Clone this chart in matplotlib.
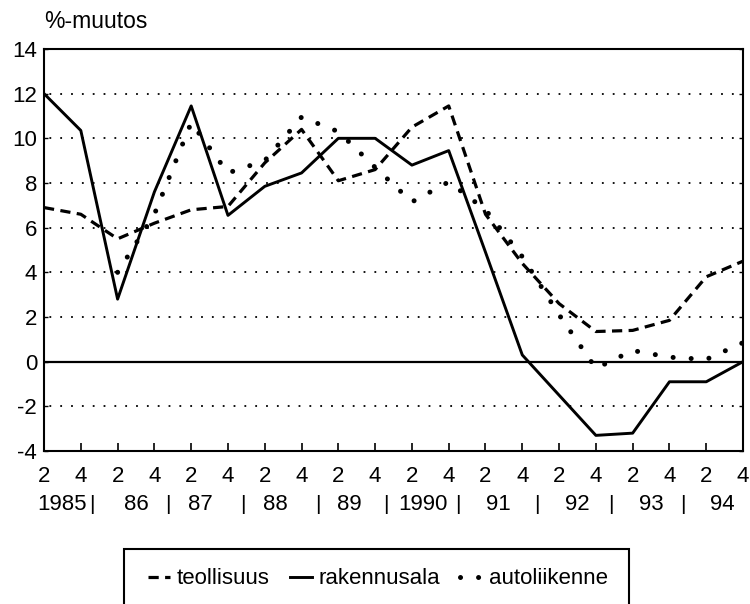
import numpy as np
from matplotlib import pyplot as plt
from matplotlib.patches import Rectangle

plt.rcParams['font.family'] = ['Liberation Sans', 'DejaVu Sans']
plt.rcParams['axes.unicode_minus'] = False

# half-year points, 1985 Q2 ... 1994 Q4
quarter_labels = ["2", "4"] * 10
years = ["1985", "86", "87", "88", "89", "1990", "91", "92", "93", "94"]
year_pos = [0.5, 2.5, 4.25, 6.3, 8.3, 10.3, 12.35, 14.5, 16.5, 18.45]
pipe_pos = [1.3, 3.37, 5.4, 7.45, 9.3, 11.25, 13.4, 15.4, 17.36]

teollisuus = [6.9, 6.6, 5.5, 6.2, 6.8, 6.95, 8.9, 10.4, 8.1, 8.6,
              10.5, 11.45, 6.6, 4.4, 2.6, 1.35, 1.4, 1.85, 3.8, 4.5]
rakennusala = [12.0, 10.35, 2.8, 7.6, 11.45, 6.55, 7.85, 8.45, 10.0, 10.0,
               8.8, 9.45, 4.9, 0.3, -1.5, -3.3, -3.2, -0.9, -0.9, 0.0]
autoliikenne = [np.nan, np.nan, 4.0, 6.6, 10.7, 8.45, 9.0, 10.95, 10.3, 8.7,
                7.15, 8.05, 6.8, 4.7, 2.1, -0.3, 0.5, 0.2, 0.1, 0.85]

x = np.arange(len(quarter_labels))
fs = 16

fig = plt.figure(figsize=(7.5, 6.04), dpi=100)
ax = fig.add_axes([0.0587, 0.2533, 0.932, 0.6656])

for yv in [-2, 2, 4, 6, 8, 10, 12]:
    ax.axhline(yv, color="black", lw=1.3, ls=(3, (1, 5)), zorder=1)
ax.axhline(0, color="black", lw=1.6, zorder=2)

l1, = ax.plot(x, teollisuus, color="black", lw=2.3, ls=(0, (3.2, 2.0)),
              label="teollisuus", zorder=3)
l2, = ax.plot(x, rakennusala, color="black", lw=2.1, label="rakennusala",
              zorder=4)
l3, = ax.plot(x, autoliikenne, color="black", lw=3.6, ls=(0, (0.01, 3.6)),
              dash_capstyle="round", label="autoliikenne", zorder=3)

ax.set_xlim(0, 19)
ax.set_ylim(-4, 14)
ax.set_yticks(np.arange(-4, 15, 2))
ax.set_xticks(x)
ax.set_xticklabels(quarter_labels)
ax.tick_params(axis="x", direction="in", length=6, width=1.2, pad=11,
               labelsize=fs)
ax.tick_params(axis="y", direction="in", length=3, width=1, pad=5,
               labelsize=fs, right=True)
for s in ax.spines.values():
    s.set_linewidth(1.5)

tr = ax.get_xaxis_transform()
for pos, yr in zip(year_pos, years):
    ax.text(pos, -0.133, yr, transform=tr, ha="center", va="center",
            fontsize=fs, clip_on=False)
for pos in pipe_pos:
    ax.text(pos, -0.133, "|", transform=tr, ha="center", va="center",
            fontsize=fs - 1, clip_on=False)

fig.text(44 / 750, 1 - 22 / 604, "%-muutos", ha="left", va="center",
         fontsize=fs + 0.5)

# legend box runs off the bottom of the picture
fig.patches.append(Rectangle((124 / 750, -0.05), 505 / 750, 0.05 + 55 / 604,
                             transform=fig.transFigure, fill=False,
                             edgecolor="black", lw=1.5))
fig.legend(handles=[l1, l2, l3], loc="center", ncol=3, frameon=False,
           bbox_to_anchor=(378 / 750, 1 - 579 / 604), fontsize=fs,
           handlelength=1.0, handletextpad=0.3, columnspacing=0.9)

fig.savefig("out.png", dpi=100)
